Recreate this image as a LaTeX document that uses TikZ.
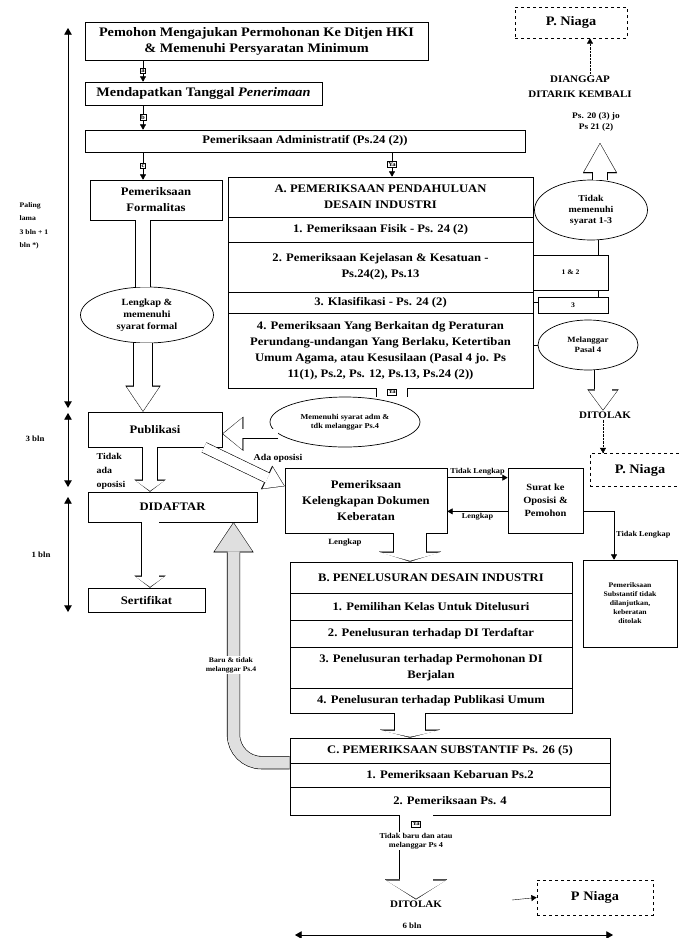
\documentclass[tikz,border=0pt]{standalone}
\usepackage{fontspec}
\setmainfont{Liberation Serif}[FakeStretch=1.1]
\usepackage{tikz}
\usetikzlibrary{arrows,arrows.meta,shapes.geometric}
\tikzstyle{es} = [-triangle 60]
\tikzstyle{cell} = [draw, line width=0.7pt, align=center, inner sep=1pt, font=\fontsize{11.5}{16}\selectfont\bfseries]
\tikzstyle{oval} = [draw, ellipse, line width=0.7pt, align=center, inner sep=0pt, font=\fontsize{8}{10}\selectfont\bfseries]
\tikzstyle{niaga} = [draw, dashed, line width=0.7pt, font=\fontsize{13}{15}\selectfont\bfseries]
\tikzstyle{lbl} = [align=center, inner sep=1pt, font=\fontsize{7.5}{9}\selectfont\bfseries]
\tikzstyle{tag} = [draw, fill=white, inner sep=1pt, font=\fontsize{6}{7}\selectfont\bfseries]
\tikzset{fatcol/.initial=white,
  fat/.code n args={3}{%
    \pgfmathsetmacro\fatw{#1+1.2}%
    \pgfmathsetmacro\fatiw{#2-2.6}%
    \pgfmathsetmacro\fatil{#3-2}%
    \edef\fatopts{line width=\fatw pt, -{Triangle[length=#3pt, width=#2pt, line width=0.01pt]},
      postaction={draw=\pgfkeysvalueof{/tikz/fatcol}, line width=#1pt,
      -{Triangle[length=\fatil pt, width=\fatiw pt, line width=0.01pt]}, shorten >=0.9pt}}%
    \expandafter\tikzset\expandafter{\fatopts}},
  fatline/.style={double, double distance=#1, line width=0.6pt}}

\begin{document}
\begin{tikzpicture}[x=1pt,y=-1pt]
\useasboundingbox (0,0) rectangle (679,938);
\node[cell, font=\fontsize{13}{16}\selectfont\bfseries, minimum width=343, minimum height=38] (pemohon) at (256.5,41) {Pemohon Mengajukan Permohonan Ke Ditjen HKI\\ \& Memenuhi Persyaratan Minimum};
\node[cell, font=\fontsize{13}{16}\selectfont\bfseries, minimum width=237, minimum height=23] (tgl) at (203.5,93.5) {Mendapatkan Tanggal \textit{Penerimaan}};
\node[cell, minimum width=440, minimum height=22] (adm) at (305,141) {Pemeriksaan Administratif (Ps.24 (2))};
\node[cell, minimum width=132, minimum height=40] (formal) at (156,200) {Pemeriksaan\\ Formalitas};
\node[oval, font=\fontsize{9.5}{12}\selectfont\bfseries, minimum width=133, minimum height=56] (lengkap) at (147,315) {Lengkap \&\\ memenuhi\\ syarat formal};
\node[cell, minimum width=134, minimum height=35] (publik) at (155,429.5) {Publikasi};
\node[cell, minimum width=169, minimum height=30] (daftar) at (172.5,507) {DIDAFTAR};
\node[cell, minimum width=117, minimum height=24] (sertif) at (146.5,600) {Sertifikat};
\node[cell, minimum width=305, minimum height=40] (a0) at (380.5,197) {A. PEMERIKSAAN PENDAHULUAN\\ DESAIN INDUSTRI};
\node[cell, minimum width=305, minimum height=25] (a1) at (380.5,229.5) {1. Pemeriksaan Fisik - Ps. 24 (2)};
\node[cell, minimum width=305, minimum height=50] (a2) at (380.5,267) {2. Pemeriksaan Kejelasan \& Kesatuan -\\ Ps.24(2), Ps.13};
\node[cell, minimum width=305, minimum height=21] (a3) at (380.5,302.5) {3. Klasifikasi - Ps. 24 (2)};
\node[cell, minimum width=305, minimum height=75] (a4) at (380.5,350.5) {4. Pemeriksaan Yang Berkaitan dg Peraturan\\ Perundang-undangan Yang Berlaku, Ketertiban\\ Umum Agama, atau Kesusilaan (Pasal 4 jo. Ps\\ 11(1), Ps.2, Ps. 12, Ps.13, Ps.24 (2))};
\node[oval, font=\fontsize{7.5}{9.5}\selectfont\bfseries, minimum width=150, minimum height=50] (syarat) at (345,422) {Memenuhi syarat adm \&\\ tdk melanggar Ps.4};
\node[cell, minimum width=162, minimum height=65] (pkd) at (366,500.5) {Pemeriksaan\\ Kelengkapan Dokumen\\ Keberatan};
\node[cell, font=\fontsize{9.5}{13}\selectfont\bfseries, minimum width=75, minimum height=65] (surat) at (545.5,500.5) {Surat ke\\ Oposisi \&\\ Pemohon};
\node[cell, font=\fontsize{7}{9}\selectfont\bfseries, minimum width=94, minimum height=87] (pst) at (630,603.5) {Pemeriksaan\\ Substantif tidak\\ dilanjutkan,\\ keberatan\\ ditolak};
\node[cell, minimum width=282, minimum height=31] (b0) at (431,577.5) {B. PENELUSURAN DESAIN INDUSTRI};
\node[cell, minimum width=282, minimum height=27] (b1) at (431,606.5) {1. Pemilihan Kelas Untuk Ditelusuri};
\node[cell, minimum width=282, minimum height=27] (b2) at (431,633.5) {2. Penelusuran terhadap DI Terdaftar};
\node[cell, minimum width=282, minimum height=41] (b3) at (431,667.5) {3. Penelusuran terhadap Permohonan DI\\ Berjalan};
\node[cell, minimum width=282, minimum height=25] (b4) at (431,700.5) {4. Penelusuran terhadap Publikasi Umum};
\node[cell, minimum width=320, minimum height=25] (c0) at (450,750.5) {C. PEMERIKSAAN SUBSTANTIF Ps. 26 (5)};
\node[cell, minimum width=320, minimum height=24] (c1) at (450,775) {1. Pemeriksaan Kebaruan Ps.2};
\node[cell, minimum width=320, minimum height=28] (c2) at (450,801) {2. Pemeriksaan Ps. 4};
\node[niaga, minimum width=112, minimum height=31] (niaga1) at (571,22.5) {P. Niaga};
\node[lbl, font=\fontsize{10}{15}\selectfont\bfseries] (dianggap) at (580,87) {DIANGGAP\\ DITARIK KEMBALI};
\node[lbl, font=\fontsize{8.5}{11}\selectfont\bfseries] (ps20) at (596,122) {Ps. 20 (3) jo\\ Ps 21 (2)};
\node[oval, font=\fontsize{9}{11}\selectfont\bfseries, minimum width=113, minimum height=60] (tidak) at (591,210) {Tidak\\ memenuhi\\ syarat 1-3};
\node[cell, font=\fontsize{7}{9}\selectfont\bfseries, minimum width=75, minimum height=35] (sb1) at (570.5,272.5) {1 \& 2};
\node[cell, font=\fontsize{7}{9}\selectfont\bfseries, minimum width=70, minimum height=16] (sb2) at (573,305) {3};
\node[oval, minimum width=100, minimum height=50] (langgar) at (588,345) {Melanggar\\ Pasal 4};
\node[lbl, font=\fontsize{10}{12}\selectfont\bfseries] (tolak1) at (605,415) {DITOLAK};
\node[niaga, minimum width=100, minimum height=33] (niaga2) at (640,470) {P. Niaga};
\node[lbl, font=\fontsize{10}{12}\selectfont\bfseries] (tolak2) at (416,904) {DITOLAK};
\node[niaga, minimum width=116, minimum height=35] (niaga3) at (595,897.5) {P Niaga};
\node[lbl, align=left, font=\fontsize{7}{13.5}\selectfont\bfseries] (lama) at (34,226) {Paling\\ lama\\ 3 bln + 1\\ bln *)};
\node[lbl, font=\fontsize{8}{10}\selectfont\bfseries] (tiga) at (35,439) {3 bln};
\node[lbl, font=\fontsize{8}{10}\selectfont\bfseries] (satu) at (41,555) {1 bln};
\node[lbl, font=\fontsize{8}{10}\selectfont\bfseries] (enam) at (412,926) {6 bln};
\coordinate (v1) at (143,0);
\coordinate (v2) at (392,0);
\coordinate (v3) at (150,0);
\coordinate (v4) at (614,0);
\coordinate (v5) at (410,0);
\coordinate (v6) at (416,0);
\coordinate (v7) at (600,0);
\coordinate (v8) at (590,0);
\coordinate (v9) at (598,0);
\coordinate (v10) at (603,0);
\coordinate (v11) at (512,900);
\coordinate (v12) at (600,143);
\coordinate (d1) at (68,28);
\coordinate (d2) at (68,408);
\coordinate (d3) at (68,413);
\coordinate (d4) at (68,487);
\coordinate (d5) at (68,497);
\coordinate (d6) at (68,612);
\coordinate (d7) at (295,935);
\coordinate (d8) at (613,935);
\draw [es] (pemohon.south -| v1) -- node[tag]{a} (tgl.north -| v1);
\draw [es] (tgl.south -| v1) -- node[tag]{b} (adm.north -| v1);
\draw [es] (adm.south -| v1) -- node[tag]{c} (formal.north -| v1);
\draw [es] (adm.south -| v2) -- node[tag]{Ya} (a0.north -| v2);
\draw [fatline=14pt] (formal.south -| v1) -- (lengkap.north -| v1);
\draw [fat={18}{35}{26}] (lengkap.south -| v1) -- (publik.north -| v1);
\draw [fat={14}{31}{12}] (publik.south -| v3) -- (daftar.north -| v3);
\draw [fat={17}{31}{12}] (daftar.south -| v3) -- (sertif.north -| v3);
\draw [fatline=30pt] (a4.south -| v2) -- (syarat.north -| v2);
\draw [fat={9}{34}{21}] (syarat.190) -- (publik.east |- syarat.190);
\draw [fat={10}{26}{20}] (publik.-20) -- (pkd.170);
\draw [es] ([yshift=-10pt]pkd.north east) -- node[lbl, above=1pt]{Tidak Lengkap} ([yshift=-10pt]surat.north west);
\draw [es] ([yshift=22pt]surat.south west) -- node[lbl, below=1pt]{Lengkap} ([yshift=22pt]pkd.south east);
\draw [es] ([yshift=22pt]surat.south east) -| (pst.north -| v4);
\draw [fat={32}{62}{10}] (pkd.south -| v5) -- (b0.north -| v5);
\draw [fat={30}{60}{8}] (b4.south -| v5) -- (c0.north -| v5);
\draw [fatcol=gray!25, fat={12}{40}{30}, rounded corners=28pt] (c1.north west) -| ([xshift=61pt]daftar.south);
\draw [fat={33}{62}{20}] (c2.south -| v6) -- (tolak2.north);
\draw [es] (v11) -- (niaga3.west);
\draw [es, densely dotted] (dianggap.north -| v8) -- (niaga1.south -| v8);
\draw [fat={14}{34}{30}] (tidak.north -| v7) -- (v12);
\draw [line width=0.7pt] (tidak.south -| v9) -- (sb1.north -| v9);
\draw [line width=0.7pt] (sb1.south -| v9) -- (sb2.north -| v9);
\draw [line width=0.7pt] (a3.east) -- (sb2.west |- a3.east);
\draw [line width=0.7pt] (a4.east |- langgar) -- (langgar.west);
\draw [fat={17}{31}{21}] (langgar.south -| v10) -- (tolak1.north -| v10);
\draw [es, densely dotted] (tolak1.south -| v10) -- (niaga2.north -| v10);
\draw [line width=0.8pt, triangle 60-triangle 60] (d1) -- (d2);
\draw [line width=0.8pt, triangle 60-triangle 60] (d3) -- (d4);
\draw [line width=0.8pt, triangle 60-triangle 60] (d5) -- (d6);
\draw [line width=0.8pt, triangle 60-triangle 60] (d7) -- (d8);
\node[tag] (ya1) at (392,392) {Ya};
\node[lbl, align=left, font=\fontsize{9}{14}\selectfont\bfseries] (tidakada) at (111,471) {Tidak\\ ada\\ oposisi};
\node[lbl, font=\fontsize{9}{11}\selectfont\bfseries] (ada) at (278,458) {Ada oposisi};
\node[lbl, anchor=west] (tdkl) at (615,535) {Tidak Lengkap};
\node[lbl, font=\fontsize{8}{10}\selectfont\bfseries] (lkp) at (345,543) {Lengkap};
\node[lbl, fill=white, font=\fontsize{7}{9}\selectfont\bfseries] (baru) at (231,665) {Baru \& tidak\\ melanggar Ps.4};
\node[tag] (ya2) at (416,824) {Ya};
\node[lbl, fill=white, font=\fontsize{7.5}{8.5}\selectfont\bfseries] (tdkbaru) at (416,841) {Tidak baru dan atau\\ melanggar Ps 4};
\end{tikzpicture}
\end{document}
